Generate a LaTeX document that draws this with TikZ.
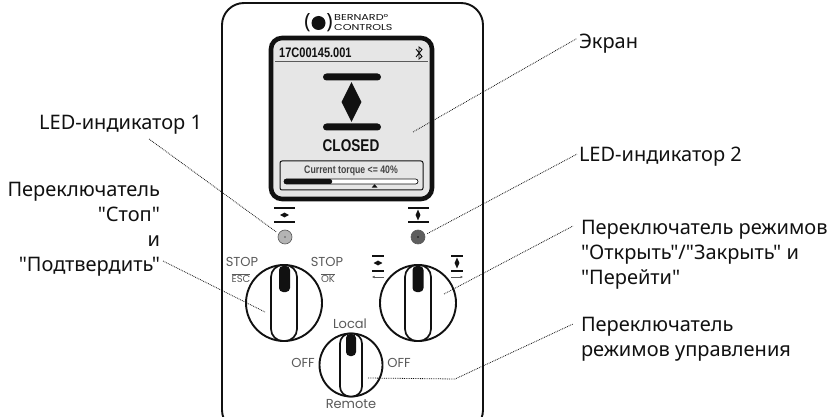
\documentclass[tikz,border=0pt]{standalone}
\usepackage{fontspec}
\setmainfont{Noto Sans}
\newfontfamily\calloutfont{Noto Sans}
\newfontfamily\dialfont{Poppins}
\newfontfamily\logofont[FakeStretch=1.3]{Poppins}
\newfontfamily\lcdfont[FakeStretch=.8]{Liberation Sans}
\usetikzlibrary{arrows.meta,positioning,shapes.geometric}
\definecolor{ink}{HTML}{111111}
\definecolor{dial}{HTML}{5A5A5A}
\definecolor{lcd}{HTML}{E6E6E6}
\definecolor{ledoff}{HTML}{B4B4B4}
\definecolor{ledon}{HTML}{5E5E5E}
\tikzset{
  callout/.style={inner sep=0pt,outer sep=2pt,text=ink,font=\calloutfont\fontsize{20}{25}\selectfont},
  leader/.style={densely dotted,line width=.8pt,draw=ink},
  ring/.style={circle,draw=ink,line width=1.9pt,fill=white,inner sep=0pt},
  slot/.style={draw=ink,line width=1.7pt,fill=white,rounded corners=12pt,inner sep=0pt},
  handle/.style={fill=ink,rounded corners=4pt,inner sep=0pt},
  ledlamp/.style={circle,draw=dial,line width=.6pt,minimum size=14pt,inner sep=0pt,outer sep=3pt},
  dialtext/.style={inner sep=0pt,text=dial,font=\dialfont\fontsize{13}{13}\selectfont},
  dialsmall/.style={inner sep=0pt,text=dial,font=\dialfont\fontsize{10}{10}\selectfont},
  bar/.style={fill=ink,rounded corners=3.5pt,minimum width=58pt,minimum height=7pt,inner sep=0pt},
  iconbar/.style={fill=ink,minimum width=21pt,minimum height=1.7pt,inner sep=0pt},
  microbar/.style={fill=ink,minimum width=12pt,minimum height=1.7pt,inner sep=0pt},
  gem/.style={diamond,fill=ink,inner sep=0pt,aspect=1},
  lcdtext/.style={inner sep=0pt,text=ink,font=\lcdfont\bfseries}
}
\begin{document}
\begin{tikzpicture}[x=1pt,y=-1pt]
  \clip (0,0) rectangle (833,417);
  \fill[white] (0,0) rectangle (833,417);
  \draw[ink,line width=1.9pt,rounded corners=22pt] (222,3) rectangle (483,432);

  \node[circle,fill=ink,minimum size=14pt,inner sep=0pt] (logodot) at (318.5,23) {};
  \node[inner sep=0pt,text=ink,font=\fontsize{21}{21}\selectfont\bfseries,left=.5pt of logodot] (logoleft) {(};
  \node[inner sep=0pt,text=ink,font=\fontsize{21}{21}\selectfont\bfseries,right=.5pt of logodot] (logoright) {)};
  \node[inner sep=0pt,anchor=west,text=ink,align=left,font=\logofont\fontsize{8.6}{10}\selectfont] (logotext) at (334,23) {BERNARD°\\CONTROLS};

  \node[draw=ink,line width=4.6pt,fill=lcd,rounded corners=11pt,minimum width=161pt,minimum height=161pt,inner sep=0pt] (screen) at (351.5,118.5) {};
  \node[lcdtext,anchor=west,font=\lcdfont\bfseries\fontsize{13.8}{14}\selectfont] (serial) at (279,53) {17C00145.001};
  \coordinate (rulestart) at (275,62);
  \coordinate (ruleend) at (428,62);
  \draw[draw=dial,line width=1pt] (rulestart) -- (ruleend);
  \draw[ink,line width=.9pt] (416,49) -- (422,56.5) -- (419,59) -- (419,47) -- (422,49.5) -- (416,57);
  \node[bar] (bartop) at (352,77) {};
  \node[bar] (barbottom) at (352,127) {};
  \node[gem,minimum width=20pt,minimum height=40pt] (valve) at (351.5,102) {};
  \node[lcdtext,font=\lcdfont\bfseries\fontsize{17}{17}\selectfont] (state) at (351,146) {CLOSED};
  \node[draw=ink,line width=1pt,fill=lcd,rounded corners=2pt,minimum width=143pt,minimum height=29pt,inner sep=0pt] (torquebox) at (351.5,175.5) {};
  \node[lcdtext,text=dial!70!ink,font=\lcdfont\bfseries\fontsize{10.9}{11}\selectfont] (torque) at (351,171) {Current torque <= 40\%};
  \node[draw=ink,line width=.7pt,fill=white,rounded corners=2.5pt,minimum width=134pt,minimum height=5pt,inner sep=0pt] (torquebar) at (351,181.5) {};
  \fill[ink,rounded corners=2pt] (284,179) rectangle (332,184);
  \node[isosceles triangle,isosceles triangle apex angle=80,shape border rotate=90,fill=ink,minimum height=3.5pt,inner sep=0pt] (torquemark) at (374.6,186.3) {};

  \node[iconbar] (ledonetop) at (284.5,208) {};
  \node[iconbar] (ledonebottom) at (284.5,222) {};
  \node[gem,minimum width=9pt,minimum height=5pt] (ledonegem) at (284.5,215) {};
  \node[iconbar] (ledtwotop) at (418,208) {};
  \node[iconbar] (ledtwobottom) at (418,222) {};
  \node[gem,minimum width=5pt,minimum height=11pt] (ledtwogem) at (418,215) {};
  \node[ledlamp,fill=ledoff] (ledone) at (285,237) {};
  \node[ledlamp,fill=ledon] (ledtwo) at (418,237) {};
  \fill[dial] (ledone) circle (.8);
  \fill[ink] (ledtwo) circle (.8);

  \node[ring,minimum size=76pt] (knobstop) at (284,303) {};
  \node[slot,minimum width=26pt,minimum height=76pt] (slotstop) at (284,303) {};
  \node[handle,minimum width=11pt,minimum height=26pt] (handlestop) at (284.5,279) {};
  \node[ring,minimum size=76pt] (knobmode) at (418,303) {};
  \node[slot,minimum width=26pt,minimum height=76pt] (slotmode) at (418,303) {};
  \node[handle,minimum width=11pt,minimum height=26pt] (handlemode) at (418,279) {};
  \node[ring,minimum size=63pt] (knobcontrol) at (351,365) {};
  \node[slot,rounded corners=10pt,minimum width=22pt,minimum height=63pt] (slotcontrol) at (351,365) {};
  \node[handle,minimum width=10pt,minimum height=22pt] (handlecontrol) at (351,345) {};

  \node[dialtext] (stopleft) at (242,262) {STOP};
  \node[dialsmall] (escleft) at (241,278) {$\overline{\hbox{ESC}}$};
  \node[dialtext] (stopright) at (327,262) {STOP};
  \node[dialsmall] (okright) at (328,278) {$\overline{\hbox{OK}}$};
  \node[dialtext] (localtext) at (350,324) {Local};
  \node[dialtext] (offleft) at (303,363) {OFF};
  \node[dialtext] (offright) at (399,363) {OFF};
  \node[dialtext] (remotetext) at (351,404) {Remote};

  \node[microbar] (modeltop) at (378,256) {};
  \node[gem,minimum width=9pt,minimum height=5pt] (modelgem) at (378,263) {};
  \node[microbar,minimum height=2.4pt] (modelbar) at (378,271) {};
  \node[microbar] (modertop) at (457,256) {};
  \node[gem,minimum width=5pt,minimum height=11pt] (modergem) at (457,263) {};
  \node[microbar,minimum height=2.4pt] (moderbar) at (457,271) {};
  \coordinate (modelarrowa) at (384,277);
  \coordinate (modelarrowb) at (372,277);
  \coordinate (moderarrowa) at (451,277);
  \coordinate (moderarrowb) at (463,277);
  \draw[-{Latex[length=2.5pt,width=2.5pt]},dial,line width=.6pt] (modelarrowa) -- (modelarrowb);
  \draw[-{Latex[length=2.5pt,width=2.5pt]},dial,line width=.6pt] (moderarrowa) -- (moderarrowb);

  \node[callout,anchor=west] (lblscreen) at (577,44) {Экран};
  \node[callout,anchor=east] (lblledone) at (204,125) {LED-индикатор 1};
  \node[callout,anchor=west] (lblledtwo) at (577,157) {LED-индикатор 2};
  \node[callout,anchor=east,align=right] (lblstop) at (162,229) {Переключатель\\"Стоп"\\и\\"Подтвердить"};
  \node[callout,anchor=west,align=left] (lblmode) at (579,255) {Переключатель режимов\\"Открыть"/"Закрыть" и\\"Перейти"};
  \node[callout,anchor=west,align=left] (lblcontrol) at (579,339) {Переключатель\\режимов управления};

  \coordinate (tipscreen) at (413,132);
  \coordinate (tipledone) at (149,139);
  \coordinate (tipstop) at (163,261);
  \coordinate (tipstopend) at (265,312);
  \coordinate (tipmode) at (444,294);
  \coordinate (tipmodeend) at (573,226);
  \coordinate (tipcontrol) at (368,378);
  \coordinate (bendcontrol) at (455,379);
  \coordinate (tipcontrolend) at (573,324);
  \draw[leader] (tipscreen)--(lblscreen.170);
  \draw[leader] (tipledone)--(ledone.150);
  \draw[leader] (ledtwo.20)--(lblledtwo.178);
  \draw[leader] (tipstop)--(tipstopend);
  \draw[leader] (tipmode)--(tipmodeend);
  \draw[leader] (tipcontrol)--(bendcontrol)--(tipcontrolend);
\end{tikzpicture}
\end{document}
